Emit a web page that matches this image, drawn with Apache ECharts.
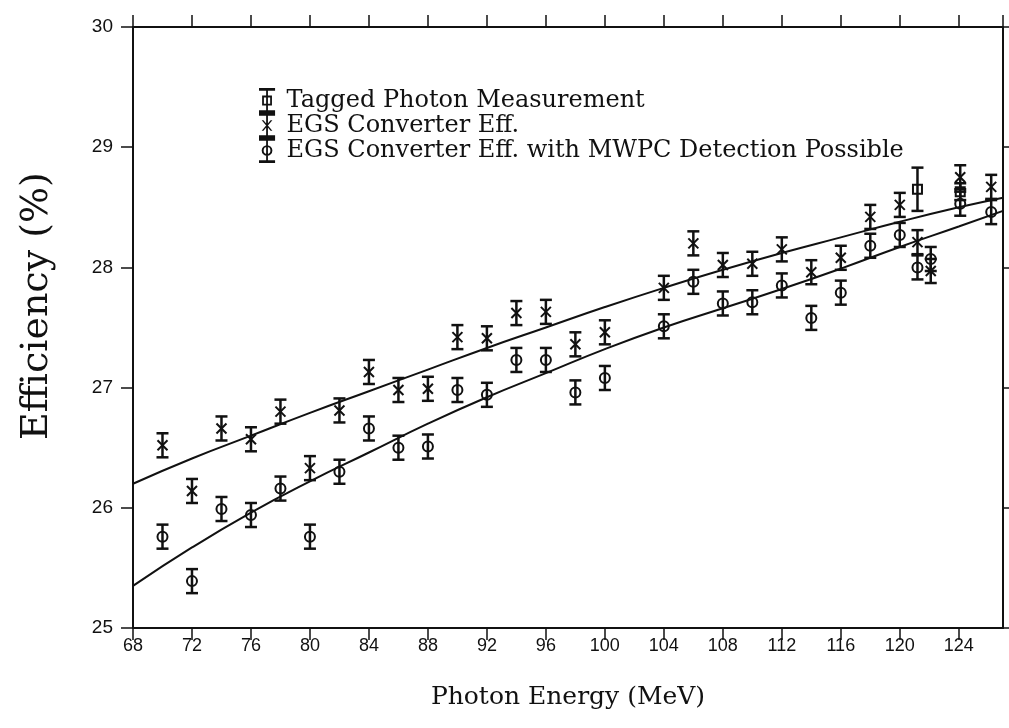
<!DOCTYPE html>
<html>
<head>
<meta charset="utf-8">
<script src="https://cdn.jsdelivr.net/npm/echarts@6/dist/echarts.min.js"></script>
<style>
  html, body { margin: 0; padding: 0; background: #fff; }
  #chart { width: 1009px; height: 728px; }
</style>
</head>
<body>
<div id="chart"></div>
<script>
// photon energies (MeV) of the simulated points
const egsEnergy = [70, 72, 74, 76, 78, 80, 82, 84, 86, 88, 90, 92, 94, 96, 98, 100,
  104, 106, 108, 110, 112, 114, 116, 118, 120, 121.2, 122.1, 124.1, 126.2];
// EGS converter efficiency (%)
const egsEff = [26.52, 26.14, 26.66, 26.57, 26.80, 26.33, 26.81, 27.13, 26.98, 26.99, 27.42, 27.41, 27.62, 27.63, 27.36, 27.46,
  27.83, 28.20, 28.02, 28.03, 28.15, 27.96, 28.08, 28.42, 28.52, 28.21, 27.97, 28.75, 28.67];
// EGS converter efficiency with MWPC detection possible (%)
const mwpcEff = [25.76, 25.39, 25.99, 25.94, 26.16, 25.76, 26.30, 26.66, 26.50, 26.51, 26.98, 26.94, 27.23, 27.23, 26.96, 27.08,
  27.51, 27.88, 27.70, 27.71, 27.85, 27.58, 27.79, 28.18, 28.27, 28.00, 28.07, 28.53, 28.46];
const egsErr = 0.1;
const mwpcErr = 0.1;

// tagged photon measurement
const taggedEnergy = [121.2, 124.1];
const taggedEff = [28.65, 28.63];
const taggedErr = [0.18, 0.07];

// fitted curves
const fitEnergy = [68, 72, 76, 80, 84, 88, 92, 96, 100, 104, 108, 112, 116, 120, 124, 127];
const egsFit = [26.2, 26.41, 26.6, 26.79, 26.97, 27.15, 27.33, 27.5, 27.67, 27.83, 27.98, 28.12, 28.25, 28.38, 28.5, 28.58];
const mwpcFit = [25.35, 25.67, 25.96, 26.22, 26.46, 26.7, 26.92, 27.12, 27.32, 27.5, 27.66, 27.82, 27.99, 28.17, 28.34, 28.47];

const names = ['Tagged Photon Measurement', 'EGS Converter Eff.', 'EGS Converter Eff. with MWPC Detection Possible'];

const ink = '#111';

function errorBar(marker) {
  return function (params, api) {
    const x = api.value(0);
    const y = api.value(1);
    const e = api.value(2);
    const c = api.coord([x, y]);
    const hi = api.coord([x, y + e]);
    const lo = api.coord([x, y - e]);
    const w = 6;
    const s = { stroke: ink, lineWidth: 2.5, fill: null };
    const children = [
      { type: 'line', shape: { x1: c[0], y1: hi[1], x2: c[0], y2: lo[1] }, style: s },
      { type: 'line', shape: { x1: c[0] - w, y1: hi[1], x2: c[0] + w, y2: hi[1] }, style: s },
      { type: 'line', shape: { x1: c[0] - w, y1: lo[1], x2: c[0] + w, y2: lo[1] }, style: s }
    ];
    const m = { stroke: ink, lineWidth: 2, fill: null };
    if (marker === 'circle') {
      children.push({ type: 'circle', shape: { cx: c[0], cy: c[1], r: 5 }, style: m });
    } else if (marker === 'square') {
      children.push({ type: 'rect', shape: { x: c[0] - 4.5, y: c[1] - 4.5, width: 9, height: 9 }, style: m });
    } else {
      children.push({ type: 'line', shape: { x1: c[0] - 5, y1: c[1] - 5, x2: c[0] + 5, y2: c[1] + 5 }, style: m });
      children.push({ type: 'line', shape: { x1: c[0] - 5, y1: c[1] + 5, x2: c[0] + 5, y2: c[1] - 5 }, style: m });
    }
    return { type: 'group', children: children };
  };
}

// legend icons, drawn as filled outlines (box 20 x 28)
const bars = 'M1 0 L19 0 L19 3 L1 3 Z M9 0 L11 0 L11 28 L9 28 Z M1 25 L19 25 L19 28 L1 28 Z ';
const iconSquare = 'path://' + bars + 'M4.5 8.5 L15.5 8.5 L15.5 19.5 L4.5 19.5 Z M6.5 10.5 L6.5 17.5 L13.5 17.5 L13.5 10.5 Z';
const iconCross = 'path://' + bars + 'M4 8 L6 8 L16 20 L14 20 Z M14 8 L16 8 L6 20 L4 20 Z';
const iconCircle = 'path://' + bars + 'M10 8 A6 6 0 1 1 10 20 A6 6 0 1 1 10 8 Z M10 10.2 A3.8 3.8 0 1 0 10 17.8 A3.8 3.8 0 1 0 10 10.2 Z';

const chart = echarts.init(document.getElementById('chart'));

const axisLine = { show: true, lineStyle: { color: ink, width: 2 } };
const axisTick = { show: true, inside: false, length: 12, lineStyle: { color: ink, width: 1.5 } };

const option = {
  backgroundColor: '#fff',
  animation: false,
  grid: { left: 133, right: 6, top: 27, bottom: 100 },
  legend: {
    orient: 'vertical',
    left: 254,
    top: 83,
    itemWidth: 19,
    itemHeight: 25,
    itemGap: 0,
    selectedMode: false,
    textStyle: { fontFamily: 'DejaVu Serif', fontSize: 24, color: ink, padding: [0, 0, 0, 5] },
    data: [
      { name: names[0], icon: iconSquare },
      { name: names[1], icon: iconCross },
      { name: names[2], icon: iconCircle }
    ]
  },
  xAxis: [
    {
      type: 'value',
      min: 68,
      max: 127,
      interval: 4,
      name: 'Photon Energy (MeV)',
      nameLocation: 'middle',
      nameGap: 57,
      nameTextStyle: { fontFamily: 'DejaVu Serif', fontSize: 25, color: ink },
      axisLine: axisLine,
      axisTick: axisTick,
      axisLabel: { margin: 9, fontFamily: 'Liberation Sans', fontSize: 18, color: ink, showMaxLabel: false },
      splitLine: { show: false }
    },
    {
      type: 'value',
      position: 'top',
      min: 68,
      max: 127,
      interval: 4,
      axisLine: axisLine,
      axisTick: axisTick,
      axisLabel: { show: false },
      splitLine: { show: false }
    }
  ],
  yAxis: [
    {
      type: 'value',
      min: 25,
      max: 30,
      interval: 1,
      axisLine: axisLine,
      axisTick: axisTick,
      axisLabel: { margin: 20, fontFamily: 'Liberation Sans', fontSize: 19, color: ink },
      splitLine: { show: false }
    },
    {
      type: 'value',
      position: 'right',
      min: 25,
      max: 30,
      interval: 1,
      axisLine: axisLine,
      axisTick: axisTick,
      axisLabel: { show: false },
      splitLine: { show: false }
    }
  ],
  graphic: [
    {
      type: 'text',
      x: 37,
      y: 306,
      rotation: Math.PI / 2,
      style: {
        text: 'Efficiency (%)',
        fontFamily: 'DejaVu Serif',
        fontSize: 38,
        fill: ink,
        align: 'center',
        verticalAlign: 'middle'
      }
    }
  ],
  series: [
    {
      type: 'line',
      data: fitEnergy.map((e, i) => [e, egsFit[i]]),
      smooth: true,
      showSymbol: false,
      silent: true,
      lineStyle: { color: ink, width: 2 }
    },
    {
      type: 'line',
      data: fitEnergy.map((e, i) => [e, mwpcFit[i]]),
      smooth: true,
      showSymbol: false,
      silent: true,
      lineStyle: { color: ink, width: 2 }
    },
    {
      name: names[0],
      type: 'custom',
      renderItem: errorBar('square'),
      itemStyle: { color: ink },
      data: taggedEnergy.map((e, i) => [e, taggedEff[i], taggedErr[i]])
    },
    {
      name: names[1],
      type: 'custom',
      renderItem: errorBar('cross'),
      itemStyle: { color: ink },
      data: egsEnergy.map((e, i) => [e, egsEff[i], egsErr])
    },
    {
      name: names[2],
      type: 'custom',
      renderItem: errorBar('circle'),
      itemStyle: { color: ink },
      data: egsEnergy.map((e, i) => [e, mwpcEff[i], mwpcErr])
    }
  ]
};

chart.setOption(option);
window.addEventListener('resize', function () {
  chart.resize();
});
</script>
</body>
</html>
